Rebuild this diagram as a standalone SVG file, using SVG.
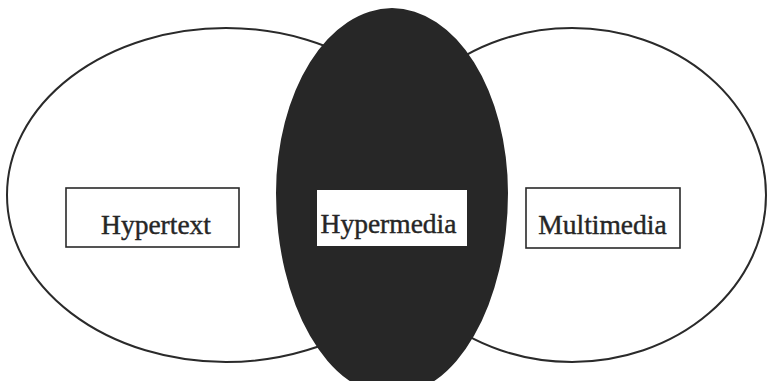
<svg xmlns="http://www.w3.org/2000/svg" width="768" height="381" viewBox="0 0 768 381">
  <style>
    .ring { fill: #ffffff; stroke: #2a2a2a; stroke-width: 2; }
    .core { fill: #272727; }
    .box { fill: #ffffff; stroke: #2a2a2a; stroke-width: 1.6; }
    .plain { fill: #ffffff; }
    .label { font-family: "Liberation Serif", "Times New Roman", serif; font-size: 27.5px; fill: #262626; stroke: #262626; stroke-width: 0.4; text-anchor: middle; }
  </style>
  <rect width="768" height="381" fill="#ffffff"/>
  <g id="hypertext-set">
    <ellipse class="ring" cx="226" cy="195" rx="219" ry="167"/>
  </g>
  <g id="multimedia-set">
    <ellipse class="ring" cx="572" cy="195" rx="194" ry="167"/>
  </g>
  <g id="hypermedia-set">
    <path class="core" d="M276,193 A116,185 0 0 1 508,193 A116,202 0 0 1 276,193 Z"/>
  </g>
  <g id="connectors"></g>
  <g id="hypertext">
    <rect class="box" x="66" y="188" width="173" height="59"/>
    <text class="label" x="156" y="234">Hypertext</text>
  </g>
  <g id="hypermedia">
    <rect class="plain" x="317" y="190" width="150" height="56"/>
    <text class="label" x="388.5" y="233">Hypermedia</text>
  </g>
  <g id="multimedia">
    <rect class="box" x="526" y="188" width="154" height="60"/>
    <text class="label" x="602.5" y="234">Multimedia</text>
  </g>
</svg>
